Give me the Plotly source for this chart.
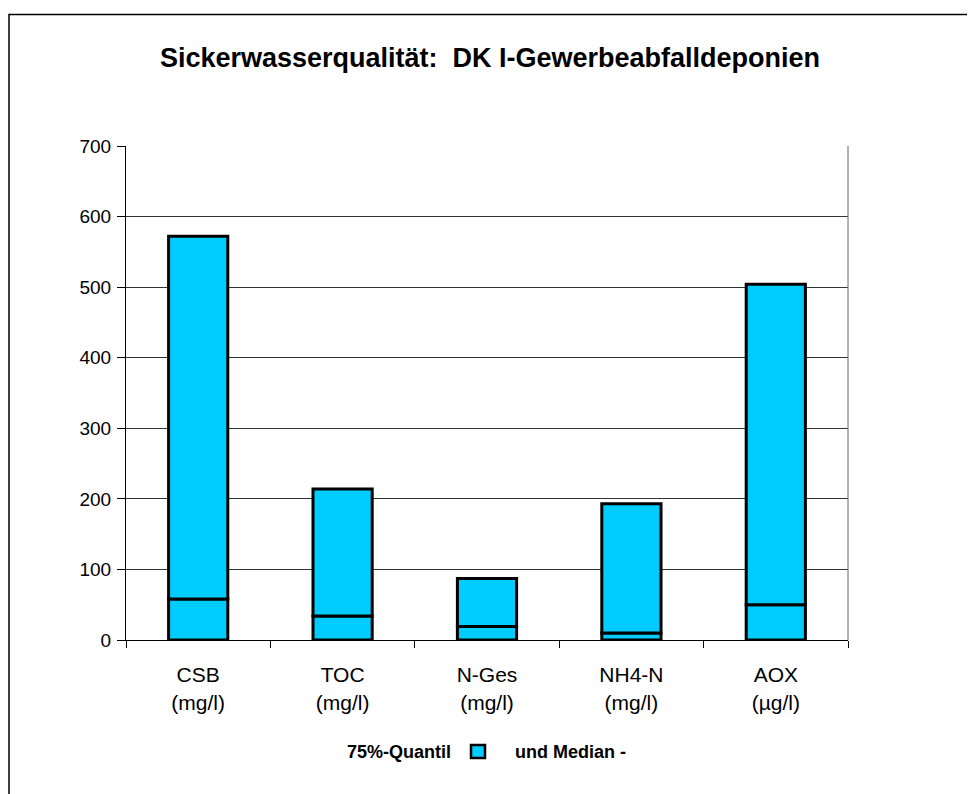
import plotly.graph_objects as go

categories = ["CSB<br>(mg/l)", "TOC<br>(mg/l)", "N-Ges<br>(mg/l)", "NH4-N<br>(mg/l)", "AOX<br>(µg/l)"]
quantil75 = [572, 214, 87, 193, 504]
median = [58, 34, 19, 10, 50]
y_ticks = [0, 100, 200, 300, 400, 500, 600, 700]

upper = [q - m for q, m in zip(quantil75, median)]

W, H = 975, 794
OFF = 8  # page body offset
L, T = 126 - OFF, 146 - OFF
pw, ph = 722, 494
R = W - L - pw
B = H - T - ph

def px(x):
    return (x - 126) / pw

def py(y):
    return (640 - y) / ph

bar_style = dict(color="#00CCFF", line=dict(color="black", width=3))

fig = go.Figure()
fig.add_trace(go.Bar(x=categories, y=median, marker=bar_style, width=0.41,
                     name="Median", showlegend=False))
fig.add_trace(go.Bar(x=categories, y=upper, base=median, marker=bar_style, width=0.41,
                     name="75%-Quantil", showlegend=False))

fig.update_layout(
    width=W, height=H,
    margin=dict(l=L, r=R, t=T, b=B),
    paper_bgcolor="white", plot_bgcolor="white",
    barmode="overlay",
    font=dict(family="Liberation Sans, Arial, sans-serif", size=18, color="black"),
    title=dict(text="<b>Sickerwasserqualität:  DK I-Gewerbeabfalldeponien</b>",
               x=(490 - OFF) / W, xanchor="center", y=1 - (58 - OFF) / H, yanchor="middle",
               font=dict(size=27, color="black")),
    xaxis=dict(range=[-0.5, 4.5], showline=True, linecolor="black", linewidth=1,
               ticks="outside", tickson="boundaries", ticklen=7, tickcolor="black",
               showgrid=False, mirror=False, tickfont=dict(size=21),
               ticklabelstandoff=16),
    yaxis=dict(range=[0, 700], tickvals=y_ticks, showline=True, linecolor="black",
               linewidth=1, ticks="outside", ticklen=8, tickcolor="black",
               showgrid=True, gridcolor="#333333", gridwidth=1, zeroline=False,
               ticklabelstandoff=2, tickfont=dict(size=19)),
    shapes=[
        dict(type="line", xref="paper", yref="paper", x0=1, x1=1, y0=0, y1=1,
             line=dict(color="#666666", width=1)),
        dict(type="rect", xref="paper", yref="paper",
             x0=px(9), x1=px(990), y0=py(14.5), y1=py(810),
             line=dict(color="black", width=1.5), fillcolor="rgba(0,0,0,0)"),
        dict(type="rect", xref="paper", yref="paper",
             x0=px(471), x1=px(485), y0=py(745), y1=py(758),
             line=dict(color="black", width=2.5), fillcolor="#00CCFF"),
    ],
    annotations=[
        dict(text="<b>75%-Quantil</b>", xref="paper", yref="paper",
             x=px(453), y=py(752), xanchor="right", yanchor="middle",
             showarrow=False, font=dict(size=18)),
        dict(text="<b>und Median -</b>", xref="paper", yref="paper",
             x=px(513), y=py(752), xanchor="left", yanchor="middle",
             showarrow=False, font=dict(size=18)),
    ],
)

fig.write_html("out.html")
